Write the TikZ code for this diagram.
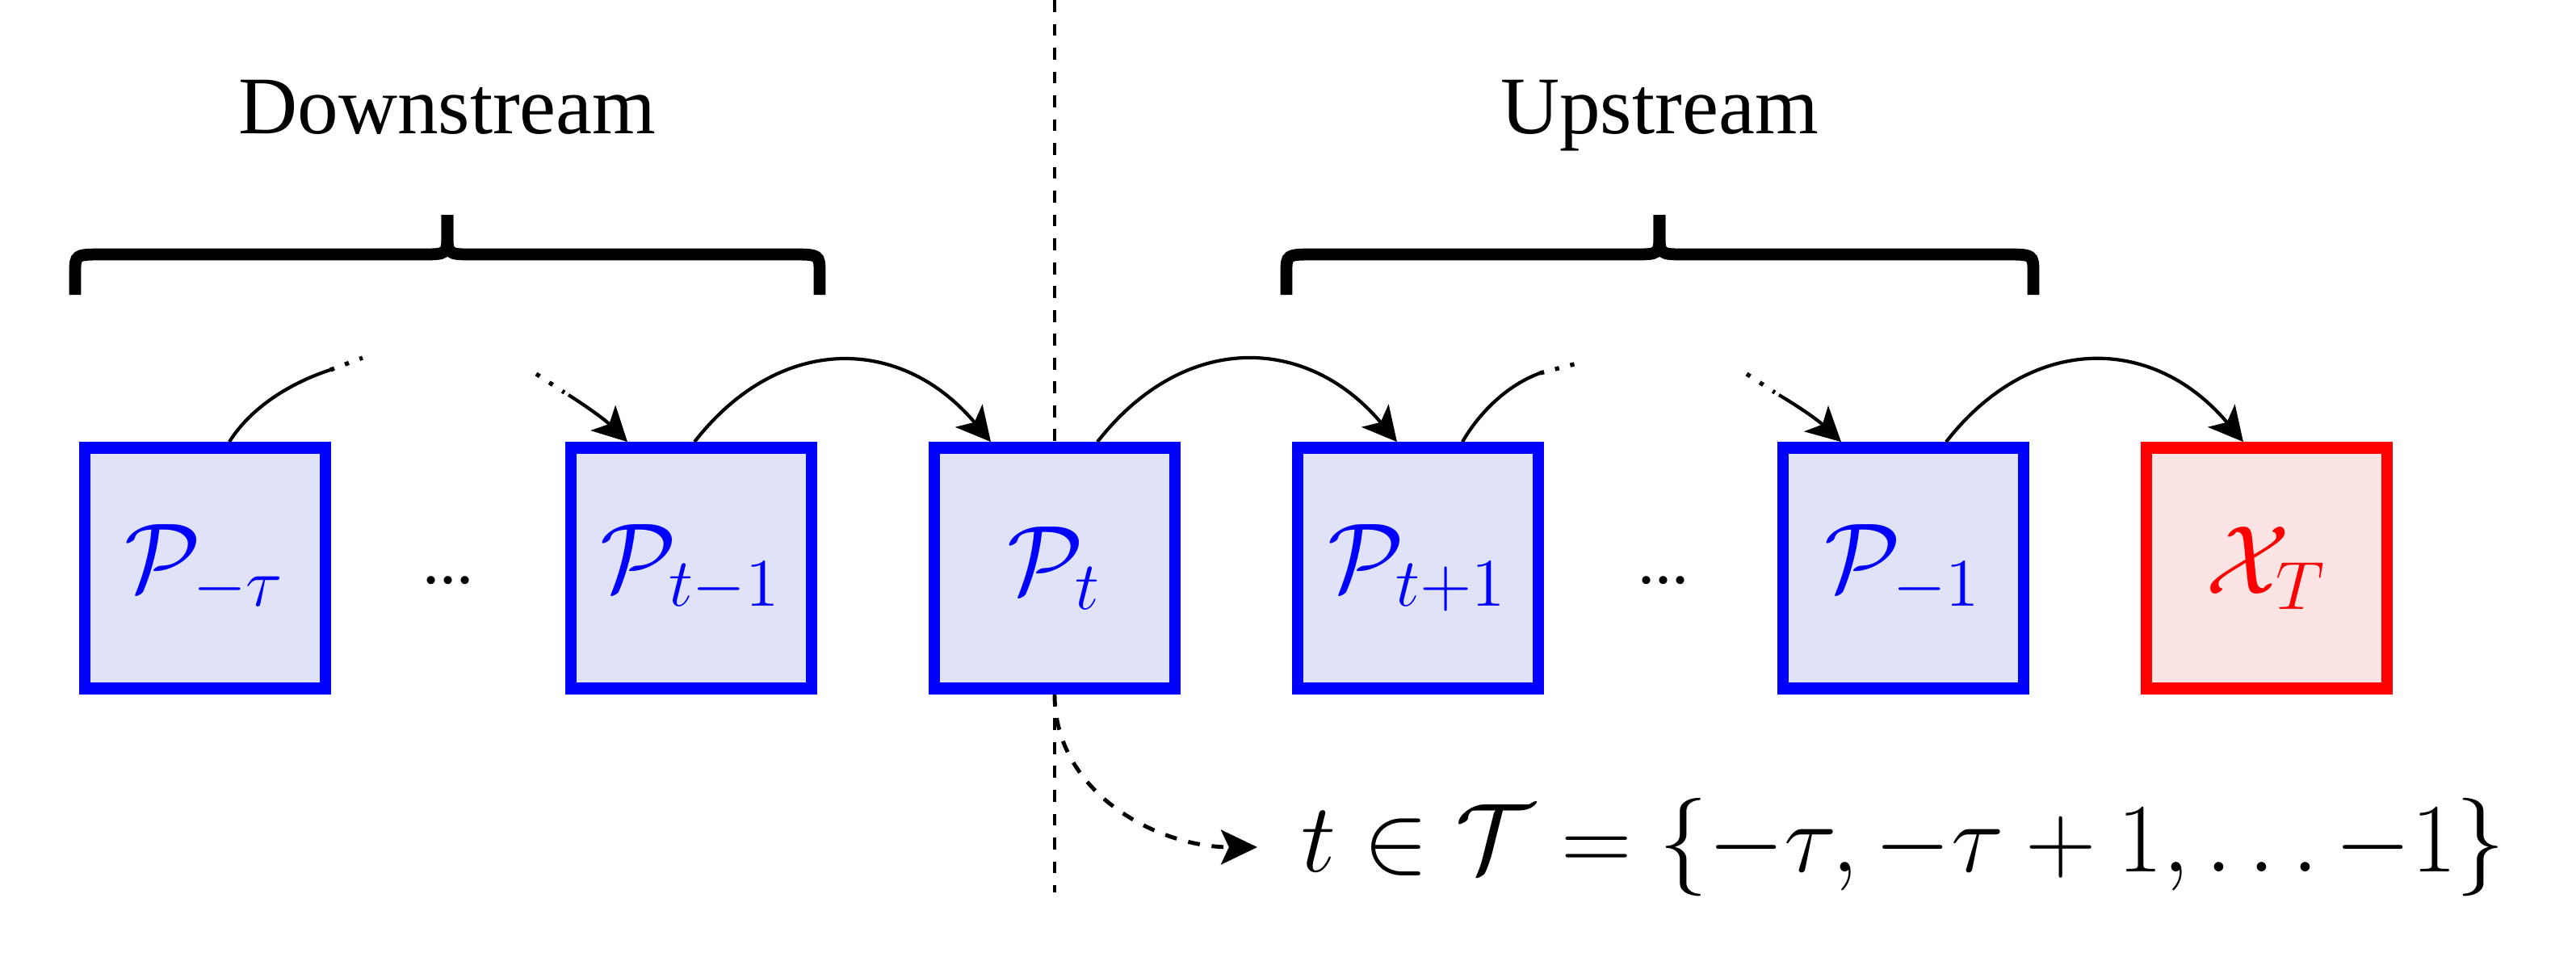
\documentclass[tikz,border=0pt]{standalone}
\usepackage{amsmath,amssymb}
\usepackage{fontspec}
\newfontfamily\labelfont{Liberation Serif}
\usepackage{tikz}
\usetikzlibrary{arrows.meta}

\definecolor{pfill}{RGB}{224,227,248}
\definecolor{xfill}{RGB}{253,228,228}

% curly brace over a group of boxes: left end, right end, tip
\newcommand{\groupbrace}[3]{%
	\draw[bracepen] (#1,8.45) -- (#1,8.72) .. controls (#1,8.95) .. ({#1+0.36},8.95)
		-- ({#3-0.32},8.95) .. controls (#3,8.95) .. (#3,9.22) -- (#3,9.44);
	\draw[bracepen] (#2,8.45) -- (#2,8.72) .. controls (#2,8.95) .. ({#2-0.36},8.95)
		-- ({#3+0.32},8.95) .. controls (#3,8.95) .. (#3,9.22) -- (#3,9.44);
}

\tikzset{
	pbox/.style={draw=blue, fill=pfill, text=blue, line width=2.1pt,
		minimum size=1.49cm, inner sep=0pt, font=\fontsize{18}{22}\selectfont},
	xbox/.style={pbox, draw=red, fill=xfill, text=red},
	link/.style={line width=0.6pt, -{Stealth[length=6pt,width=6.2pt,inset=1.5pt]}},
	fade/.style={line width=0.75pt, dotted},
	sepline/.style={line width=0.7pt, dash pattern=on 2.1pt off 2.1pt},
	bracepen/.style={line width=2.1pt},
	grouplabel/.style={font=\labelfont\Large, anchor=base},
	dotsnode/.style={font=\labelfont\large, anchor=base, inner sep=0pt}
}

\begin{document}
\begin{tikzpicture}[x=0.5cm, y=0.5cm]
		\useasboundingbox (0,0) rectangle (31.9,12.1);

		% group titles and braces
		\node[grouplabel] (down) at (5.54,10.45) {Downstream};
		\node[grouplabel] (up) at (20.55,10.45) {Upstream};
		\groupbrace{0.93}{10.15}{5.54}
		\groupbrace{15.93}{25.18}{20.55}

		% boxes
		\node[pbox] (Pmtau) at (2.54,5.065) {$\mathcal{P}_{-\tau}$};
		\node[dotsnode] (ldots) at (5.55,4.88) {...};
		\node[pbox] (Ptm1) at (8.56,5.065) {$\mathcal{P}_{t-1}$};
		\node[pbox] (Pt) at (13.06,5.065) {$\mathcal{P}_{t}$};
		\node[pbox] (Ptp1) at (17.56,5.065) {$\mathcal{P}_{t+1}$};
		\node[dotsnode] (rdots) at (20.6,4.88) {...};
		\node[pbox] (Pm1) at (23.57,5.065) {$\mathcal{P}_{-1}$};
		\node[xbox] (XT) at (28.07,5.065) {$\mathcal{X}_{T}$};

		% split between downstream and upstream
		\coordinate (septop) at (13.06,12.1);
		\coordinate (sepbot) at (13.06,1.05);
		\draw[sepline] (septop) -- (Pt.north);
		\draw[sepline] (Pt.south) -- (sepbot);

		% links that fade out / in
		\coordinate (mtauA) at (4.09,7.52); \coordinate (mtauB) at (4.49,7.67);
		\coordinate (tmA) at (6.64,7.47); \coordinate (tmB) at (6.99,7.24);
		\coordinate (tpA) at (19.07,7.48); \coordinate (tpB) at (19.53,7.6);
		\coordinate (moA) at (21.63,7.47); \coordinate (moB) at (21.98,7.24);
		\draw[link, -] ([xshift=0.15cm]Pmtau.north) to[out=58, in=198, looseness=0.85] (mtauA);
		\draw[fade] (mtauA) -- (mtauB);
		\draw[fade] (tmA) -- (tmB);
		\draw[link] ([shift={(0.05,-0.03)}]tmB) to[bend left=6] ([xshift=-0.395cm]Ptm1.north);
		\draw[link, -] ([xshift=0.275cm]Ptp1.north) to[out=60, in=200, looseness=0.85] (tpA);
		\draw[fade] (tpA) -- (tpB);
		\draw[fade] (moA) -- (moB);
		\draw[link] ([shift={(0.05,-0.03)}]moB) to[bend left=6] ([xshift=-0.385cm]Pm1.north);

		% links between neighbours
		\draw[link] ([xshift=0.02cm]Ptm1.north) to[out=52, in=130, looseness=1.2] ([xshift=-0.395cm]Pt.north);
		\draw[link] ([xshift=0.265cm]Pt.north) to[out=52, in=130, looseness=1.2] ([xshift=-0.13cm]Ptp1.north);
		\draw[link] ([xshift=0.265cm]Pm1.north) to[out=52, in=130, looseness=1.2] ([xshift=-0.145cm]XT.north);

		% index set
		\node[anchor=west, inner sep=0pt, font=\LARGE] (setT) at (16.1,1.61)
			{$t \in \mathcal{T} = \{-\tau, -\tau+1, \ldots {-1}\}$};
		\draw[sepline, -{Stealth[length=6.4pt,width=6.1pt,inset=1.4pt]}] (Pt.south)
			to[out=-90, in=180] ([xshift=-0.265cm]setT.west);
\end{tikzpicture}
\end{document}
